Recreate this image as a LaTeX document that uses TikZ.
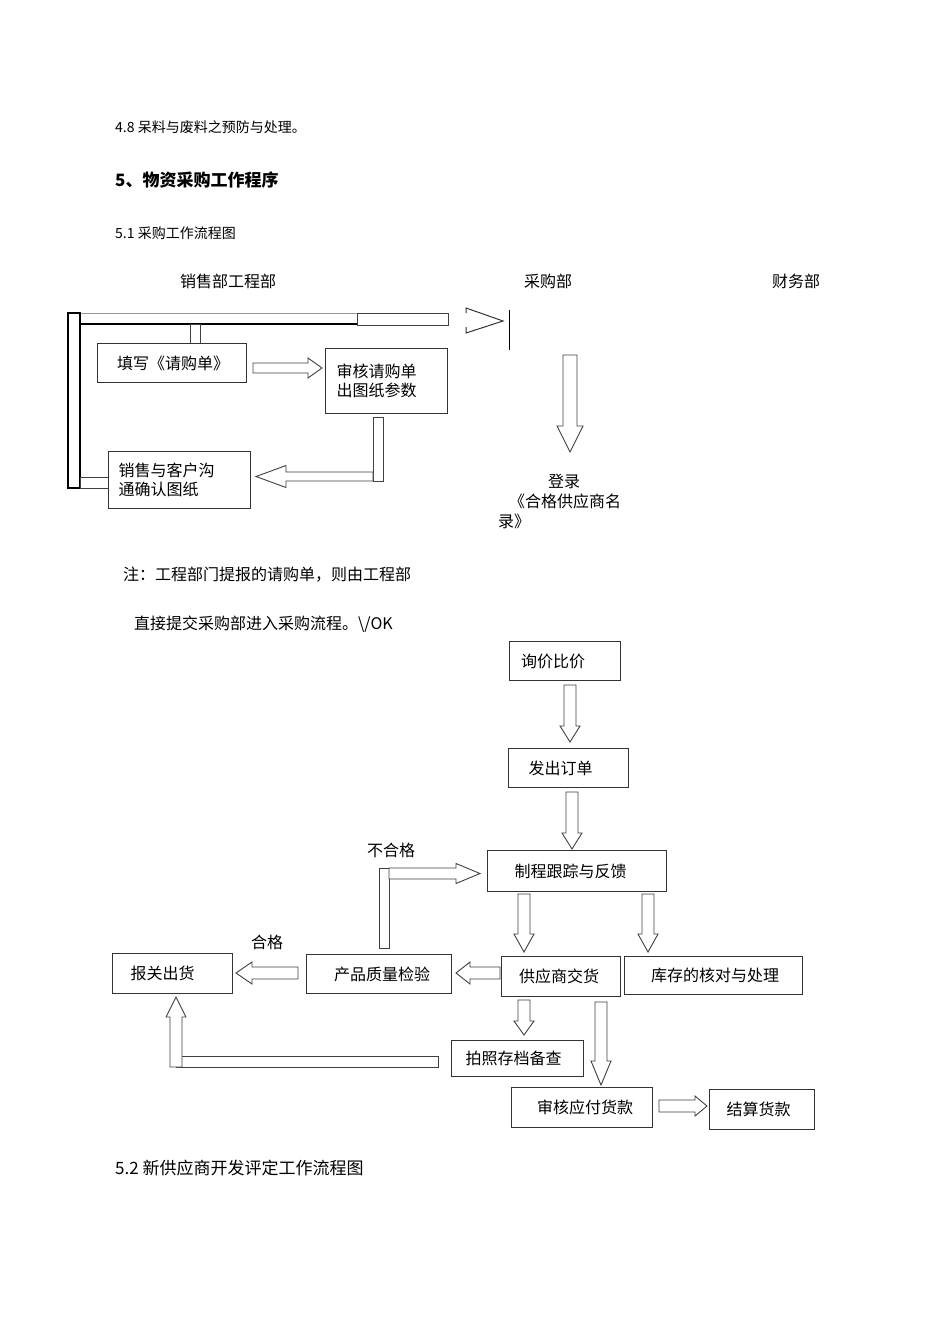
\documentclass[tikz,border=0pt]{standalone}
\usepackage{fontspec}
\setmainfont{Noto Sans CJK SC}
\newfontfamily\cjk{Noto Sans CJK SC}
\begin{document}
\begin{tikzpicture}[x=1pt,y=1pt,
  box/.style={draw=black!80,line width=1pt,anchor=north west,inner sep=0pt,font=\fontsize{16}{19}\selectfont,align=left},
  blk/.style={draw=black!75,line width=0.9pt,fill=white},
  txt/.style={anchor=west,inner sep=0pt}]
\useasboundingbox (0,0) rectangle (950,-1344);
\newcommand\blkarr[7]{\begin{scope}[shift={(#1,-#2)},rotate=#3]
\draw[blk] (0,-#5)--(#4-#7,-#5)--(#4-#7,-#6)--(#4,0)--(#4-#7,#6)--(#4-#7,#5)--(0,#5)--cycle;\end{scope}}
% headings
\node[txt,font=\fontsize{14}{16}\selectfont] (t1) at (115,-127) {4.8 呆料与废料之预防与处理。};
\node[txt,font=\fontsize{17}{19}\selectfont\bfseries] (t2) at (115,-180) {5、物资采购工作程序};
\node[txt,font=\fontsize{14}{16}\selectfont] (t3) at (115,-233) {5.1 采购工作流程图};
\node[font=\fontsize{16}{19}\selectfont] (h1) at (228,-281) {销售部工程部};
\node[font=\fontsize{16}{19}\selectfont] (h2) at (548,-281) {采购部};
\node[font=\fontsize{16}{19}\selectfont] (h3) at (796,-281) {财务部};
% top frame
\draw[black!40,line width=0.8pt] (68,-313)--(448,-313);
\draw[black,line width=1.4pt] (68,-324)--(357,-324);
\draw[blk] (357,-313) rectangle (448,-325);
\draw[black,line width=1.4pt,fill=white] (68,-313) rectangle (80,-488);
\draw[blk] (80,-477) rectangle (108,-488);
\draw[blk] (190,-324) rectangle (200,-343);
\draw[black!80,line width=1pt] (466,-313)--(466,-308)--(503,-321)--(466,-333)--(466,-327);
\draw[black,line width=1pt] (509,-310)--(509,-350);
% boxes top
\node[box,minimum width=149pt,minimum height=39pt,text width=130pt] (b1) at (97,-343) {\hspace*{10pt}填写《请购单》};
\node[box,minimum width=122pt,minimum height=65pt,text width=108pt] (b2) at (325,-348) {\hspace*{4pt}审核请购单\\\hspace*{4pt}出图纸参数};
\node[box,minimum width=142pt,minimum height=57pt,text width=130pt] (b3) at (108,-451) {\hspace*{4pt}销售与客户沟\\\hspace*{4pt}通确认图纸};
\blkarr{253}{368}{0}{69}{5}{10}{14}
\draw[blk] (373,-417) rectangle (383,-481);
\blkarr{373}{476.5}{180}{117}{4.5}{11}{30}
\blkarr{570}{355}{-90}{97}{7}{13}{26}
\node[font=\fontsize{16}{19}\selectfont] (r1) at (564,-481) {登录};
\node[font=\fontsize{16}{19}\selectfont] (r2) at (565,-501) {《合格供应商名};
\node[font=\fontsize{16}{19}\selectfont] (r3) at (514,-521) {录》};
\node[txt,font=\fontsize{16}{19}\selectfont] (n1) at (123,-575) {注：工程部门提报的请购单，则由工程部};
\node[txt,font=\fontsize{16}{19}\selectfont] (n2) at (134,-624) {直接提交采购部进入采购流程。\textbackslash/OK};
% lower flow
\node[box,minimum width=111pt,minimum height=39pt,text width=100pt] (c1) at (509,-641) {\hspace*{6pt}询价比价};
\blkarr{570}{685}{-90}{57}{6}{10}{16}
\node[box,minimum width=120pt,minimum height=39pt,text width=108pt] (c2) at (508,-748) {\hspace*{14pt}发出订单};
\blkarr{572}{792}{-90}{57}{6}{10}{16}
\node[box,line width=1.4pt,minimum width=179pt,minimum height=41pt,text width=165pt] (c3) at (487,-850) {\hspace*{20pt}制程跟踪与反馈};
\node[font=\fontsize{16}{19}\selectfont] (l1) at (391,-850) {不合格};
\draw[blk] (379,-868) rectangle (389,-948);
\blkarr{389}{873.5}{0}{91}{5.5}{10}{24}
\blkarr{524}{894}{-90}{58}{6}{10}{18}
\blkarr{648}{894}{-90}{58}{6}{10}{18}
\node[box,minimum width=119pt,minimum height=40pt,text width=108pt] (c4) at (501,-956) {\hspace*{12pt}供应商交货};
\node[box,minimum width=178pt,minimum height=38pt,text width=165pt] (c5) at (624,-956) {\hspace*{20pt}库存的核对与处理};
\node[box,minimum width=145pt,minimum height=39pt,text width=130pt] (c6) at (306,-954) {\hspace*{20pt}产品质量检验};
\blkarr{500}{973}{180}{44}{6}{11}{14}
\node[box,minimum width=120pt,minimum height=40pt,text width=108pt] (c7) at (112,-953) {\hspace*{12pt}报关出货};
\blkarr{298}{973}{180}{62}{6}{11}{16}
\node[font=\fontsize{16}{19}\selectfont] (l2) at (267,-942) {合格};
\blkarr{524}{1000}{-90}{35}{6}{10}{14}
\node[box,line width=1.3pt,minimum width=132pt,minimum height=36pt,text width=120pt] (c8) at (451,-1040) {\hspace*{8pt}拍照存档备查};
\draw[blk] (176,-1056) rectangle (438,-1067);
\blkarr{176}{1067}{90}{70}{6}{10}{20}
\blkarr{601}{1002}{-90}{83}{6}{10}{24}
\node[box,minimum width=141pt,minimum height=40pt,text width=130pt] (c9) at (511,-1087) {\hspace*{20pt}审核应付货款};
\blkarr{659}{1106}{0}{48}{6}{10}{12}
\node[box,minimum width=105pt,minimum height=40pt,text width=95pt] (c10) at (709,-1089) {\hspace*{12pt}结算货款};
\node[txt,font=\fontsize{17}{19}\selectfont] (t4) at (115,-1168) {5.2 新供应商开发评定工作流程图};
\end{tikzpicture}
\end{document}
